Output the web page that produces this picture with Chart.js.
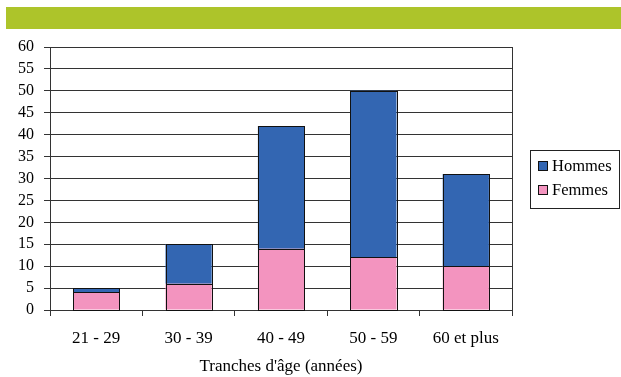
<!DOCTYPE html>
<html>
<head>
<meta charset="utf-8">
<script src="https://cdn.jsdelivr.net/npm/chart.js@4"></script>
<style>
  html, body { margin: 0; padding: 0; background: #fff; }
  #wrap { position: relative; width: 621px; height: 377px; overflow: hidden; }
  #band { position: absolute; left: 6px; top: 7px; width: 615px; height: 22px; background: #adc42a; }
  #c { position: absolute; left: 0; top: 0; }
</style>
</head>
<body>
<div id="wrap">
  <div id="band"></div>
  <canvas id="c" width="621" height="377"></canvas>
</div>
<script>
// Répartition par tranche d'âge et par sexe
const categories = ["21 - 29", "30 - 39", "40 - 49", "50 - 59", "60 et plus"];
const femmes = [4, 6, 14, 12, 10];
const hommes = [1, 9, 28, 38, 21];
const yTicks = [0, 5, 10, 15, 20, 25, 30, 35, 40, 45, 50, 55, 60];

const seriesNames = ["Hommes", "Femmes"];
const seriesColors = ["#3366b2", "#f394bf"];

const serif = "'Liberation Serif', 'Times New Roman', serif";

// Cadre droit de la zone de tracé, contours nets des barres et légende encadrée
const frame = {
  id: 'frame',
  afterDatasetsDraw(chart) {
    const a = chart.chartArea, ctx = chart.ctx;
    ctx.save();
    ctx.strokeStyle = '#111';
    ctx.lineWidth = 1;
    chart.data.datasets.forEach((ds, i) => {
      chart.getDatasetMeta(i).data.forEach(bar => {
        const p = bar.getProps(['x', 'y', 'base', 'width'], true);
        const l = Math.round(p.x - p.width / 2) + 0.5;
        const r = Math.round(p.x + p.width / 2) + 0.5;
        const t = Math.round(Math.min(p.y, p.base)) + 0.5;
        const b = Math.round(Math.max(p.y, p.base)) + 0.5;
        ctx.strokeRect(l, t, r - l, b - t);
      });
    });
    ctx.strokeStyle = '#333';
    ctx.beginPath();
    ctx.moveTo(Math.round(a.right) + 0.5, a.top);
    ctx.lineTo(Math.round(a.right) + 0.5, a.bottom);
    ctx.stroke();
    ctx.restore();
  },
  afterDraw(chart) {
    const ctx = chart.ctx;
    const bx = a => Math.round(a) + 0.5;
    const left = chart.chartArea.right + 18, top = 150, w = 89, h = 58;
    ctx.save();
    ctx.strokeStyle = '#222';
    ctx.lineWidth = 1;
    ctx.strokeRect(bx(left), bx(top), w, h);
    ctx.font = "16.5px " + serif;
    ctx.textBaseline = 'middle';
    ctx.fillStyle = '#000';
    seriesNames.forEach((name, i) => {
      const cy = top + (i === 0 ? 16 : 40);
      ctx.fillStyle = seriesColors[i];
      ctx.fillRect(left + 8, cy - 5, 10, 10);
      ctx.strokeStyle = '#111';
      ctx.strokeRect(bx(left + 8), bx(cy - 5), 9, 9);
      ctx.fillStyle = '#000';
      ctx.fillText(name, left + 22, cy + 1);
    });
    ctx.restore();
  }
};

new Chart(document.getElementById('c'), {
  type: 'bar',
  data: {
    labels: categories,
    datasets: [
      { label: seriesNames[1], data: femmes, backgroundColor: seriesColors[1], borderWidth: 0, stack: 's' },
      { label: seriesNames[0], data: hommes, backgroundColor: seriesColors[0], borderWidth: 0, stack: 's' }
    ]
  },
  options: {
    responsive: false,
    animation: false,
    layout: { padding: { top: 47, right: 109, left: 0, bottom: 0 } },
    plugins: { legend: { display: false }, tooltip: { enabled: false } },
    datasets: { bar: { barPercentage: 0.5, categoryPercentage: 1 } },
    scales: {
      x: {
        stacked: true,
        offset: true,
        grid: { offset: true, drawOnChartArea: false, drawTicks: true, tickLength: 6, color: '#333' },
        border: { color: '#333', width: 1 },
        ticks: { color: '#000', font: { family: serif, size: 17 }, padding: 12, maxRotation: 0, autoSkip: false },
        title: { display: true, text: "Tranches d'âge (années)", color: '#000', font: { family: serif, size: 17 }, padding: { top: 4, bottom: 0 } },
        afterFit(s) { s.height = 67; }
      },
      y: {
        stacked: true,
        min: 0, max: 60,
        afterBuildTicks(s) { s.ticks = yTicks.map(v => ({ value: v })); },
        grid: { color: '#333', tickLength: 6, drawTicks: true },
        border: { color: '#333', width: 1 },
        ticks: { color: '#000', font: { family: serif, size: 16 }, padding: 10, autoSkip: false },
        afterFit(s) { s.width = 50; }
      }
    }
  },
  plugins: [frame]
});
</script>
</body>
</html>
